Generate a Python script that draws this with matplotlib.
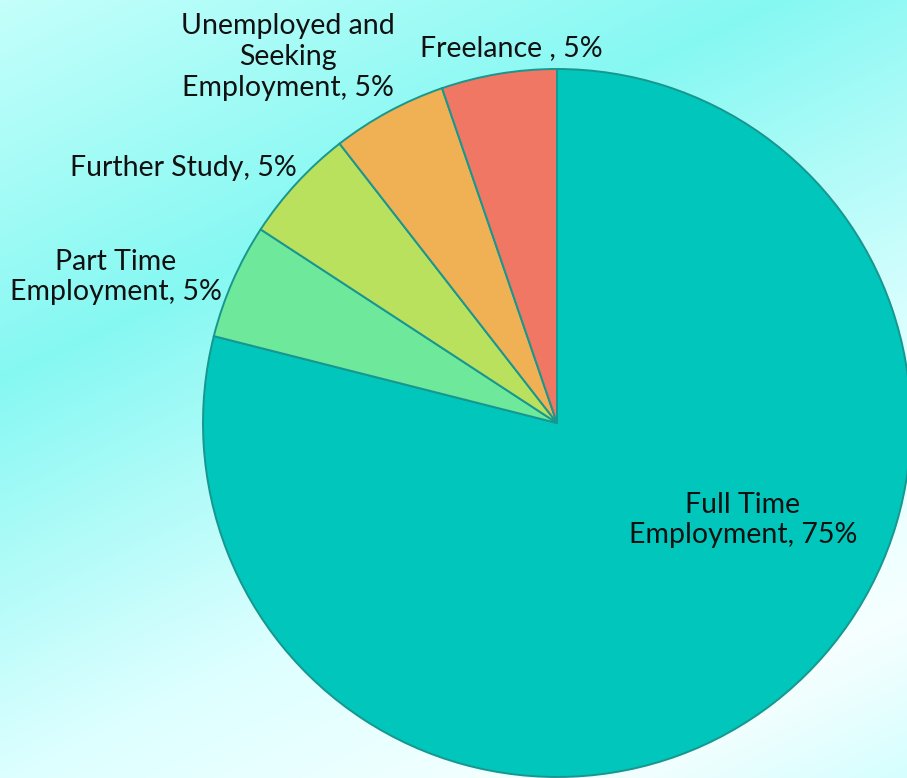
import numpy as np
import matplotlib
matplotlib.use("Agg")
import matplotlib.pyplot as plt
from matplotlib.colors import LinearSegmentedColormap

# ---- data ----
categories = ["Full Time\nEmployment", "Part Time\nEmployment", "Further Study",
              "Unemployed and\nSeeking\nEmployment", "Freelance "]
values = [75, 5, 5, 5, 5]
colors = ["#00C6BB", "#6EE99B", "#B9E15E", "#EFB154", "#F07763"]

W, H = 907, 778
fig = plt.figure(figsize=(W / 100, H / 100), dpi=100)

# ---- background gradient ----
bg = fig.add_axes([0, 0, 1, 1])
bg.set_axis_off()
yy, xx = np.mgrid[0:H, 0:W]
s = (0.438 * xx + 0.899 * yy) / 1096.0
cmap = LinearSegmentedColormap.from_list(
    "bgc",
    [(0.0, "#C4FFFB"), (0.31, "#86F8F2"), (0.64, "#DDFFFF"),
     (0.87, "#F6FFFF"), (1.0, "#D6FEFE")])
bg.imshow(s, cmap=cmap, vmin=0, vmax=1, extent=[0, W, H, 0], aspect="auto",
          interpolation="bilinear")
bg.set_xlim(0, W)
bg.set_ylim(H, 0)

# ---- pie ----
ax = fig.add_axes([0, 0, 1, 1])
ax.patch.set_alpha(0)
cx, cy, r = 557, H - 423, 354
wedges, _ = ax.pie(values, colors=colors, startangle=90, counterclock=False,
                   center=(cx, cy), radius=r,
                   wedgeprops=dict(edgecolor="#17978F", linewidth=1.4))
ax.set_xlim(0, W)
ax.set_ylim(0, H)
ax.set_aspect("equal")
ax.set_axis_off()

# ---- labels ----
label_pos = [(743, 520), (116, 277), (183, 168), (288, 57), (511, 48)]
for name, v, (px, py) in zip(categories, values, label_pos):
    ax.text(px, H - py, f"{name}, {v}%", ha="center", va="center",
            fontsize=20.5, family="Lato", color="#111111",
            linespacing=1.22)

fig.savefig("out.png", dpi=100)
